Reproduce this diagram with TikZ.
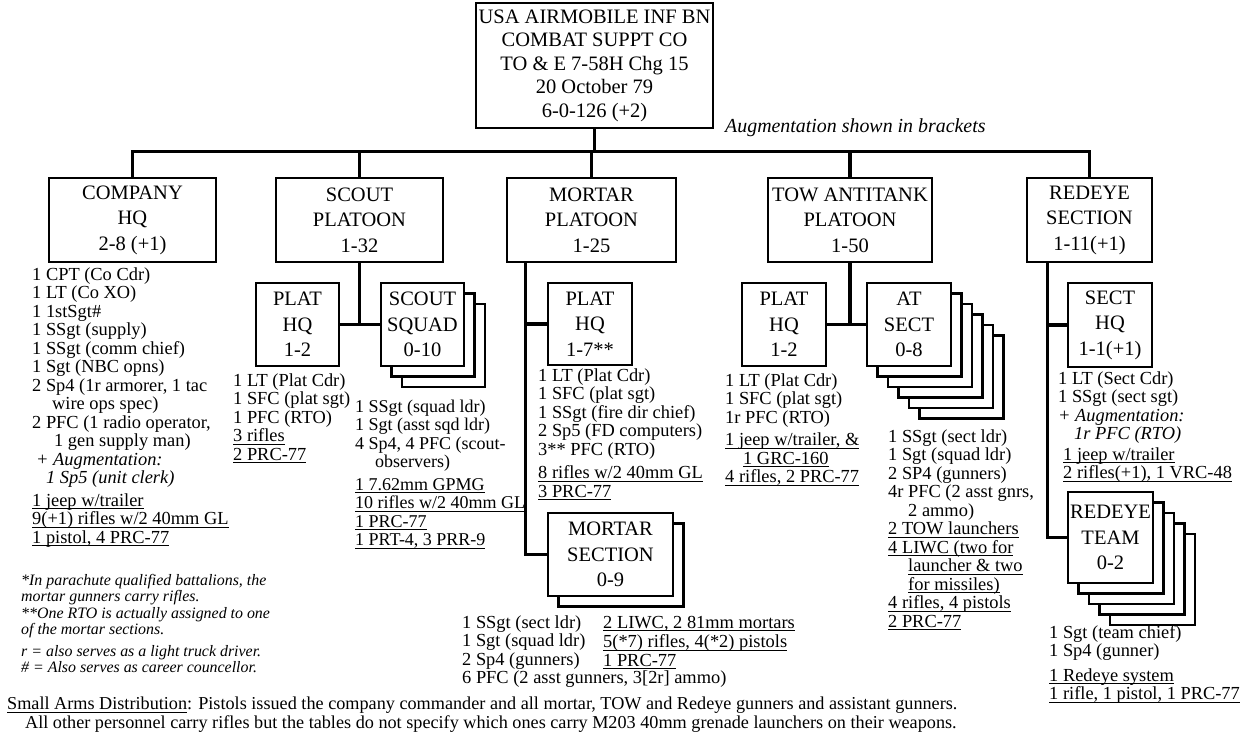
\documentclass[tikz,border=0pt]{standalone}
\usepackage{fontspec}
\setmainfont{Liberation Serif}
\usetikzlibrary{calc,positioning}
\newcommand{\boxfont}{\fontsize{20.5}{25.5}\selectfont}
\newcommand{\listfont}{\fontsize{18.4}{18.5}\selectfont}
\newcommand{\notefont}{\fontsize{15.9}{16.5}\selectfont\itshape}
\newcommand{\undl}[1]{\setbox0=\hbox{#1}\rlap{\rule[-3pt]{\wd0}{0.9pt}}\box0}
\newcommand{\stackback}[5]{%
  \foreach \k in {#5,...,1}{%
    \filldraw[sheet] ({#1+10.5*\k},{#2+10.5*\k}) rectangle ({#3+10.5*\k},{#4+10.5*\k});}}

\begin{document}
\begin{tikzpicture}[x=1pt, y=-1pt,
    unit/.style={draw, line width=2.6pt, fill=white, inner sep=0pt, align=center, font=\boxfont},
    sheet/.style={draw, line width=2.6pt, fill=white},
    roster/.style={anchor=north west, inner sep=0pt, align=left, font=\listfont},
    note/.style={anchor=north west, inner sep=0pt, align=left, font=\notefont},
    link/.style={line width=3.2pt}]
  \useasboundingbox (0,0) rectangle (1246,734);

  \node[unit, minimum width=237pt, minimum height=125pt, font=\fontsize{20.5}{23.5}\selectfont] (bn) at (594.5,65.5)
    {USA AIRMOBILE INF BN\\COMBAT SUPPT CO\\TO \& E 7-58H Chg 15\\20 October 79\\6-0-126 (+2)};
  \node[anchor=base west, inner sep=0pt, font=\fontsize{19.9}{20}\selectfont\itshape] (aug) at (725,132) {Augmentation shown in brackets};

  \node[unit, minimum width=167pt, minimum height=84pt] (coy) at (132.5,220) {COMPANY\\HQ\\2-8 (+1)};
  \node[unit, minimum width=167pt, minimum height=84pt] (sct) at (359.5,220) {SCOUT\\PLATOON\\1-32};
  \node[unit, minimum width=169pt, minimum height=84pt] (mor) at (591.5,220) {MORTAR\\PLATOON\\1-25};
  \node[unit, minimum width=164pt, minimum height=84pt] (tow) at (850,220) {TOW ANTITANK\\PLATOON\\1-50};
  \node[unit, minimum width=125pt, minimum height=84pt] (red) at (1089.5,220) {REDEYE\\SECTION\\1-11(+1)};

  \node[unit, minimum width=83pt, minimum height=83pt] (shq) at (297.5,324.5) {PLAT\\HQ\\1-2};
  \stackback{381}{283}{464}{366}{2}
  \node[unit, minimum width=83pt, minimum height=83pt] (sqd) at (422.5,324.5) {SCOUT\\SQUAD\\0-10};

  \node[unit, minimum width=84pt, minimum height=82pt] (mhq) at (590,324) {PLAT\\HQ\\1-7**};
  \stackback{548}{513}{673}{596}{1}
  \node[unit, minimum width=125pt, minimum height=83pt] (msec) at (610.5,554.5) {MORTAR\\SECTION\\0-9};

  \node[unit, minimum width=84pt, minimum height=83pt] (thq) at (784,324.5) {PLAT\\HQ\\1-2};
  \stackback{867}{283}{951}{366}{5}
  \node[unit, minimum width=84pt, minimum height=83pt] (atsec) at (909,324.5) {AT\\SECT\\0-8};

  \node[unit, minimum width=84pt, minimum height=84pt] (rhq) at (1110,325) {SECT\\HQ\\1-1(+1)};
  \stackback{1068}{492}{1153}{583}{4}
  \node[unit, minimum width=85pt, minimum height=91pt] (rteam) at (1110.5,537.5) {REDEYE\\TEAM\\0-2};

  \draw[link] (bn.south) -- ++(0,22) coordinate (hub);
  \draw[link] (coy.north) -- (coy.north |- hub) -- (red.north |- hub) -- (red.north);
  \foreach \u in {sct,mor,tow} \draw[link] (\u.north) -- (\u.north |- hub);

  \draw[link] (sct.south) -- (sct.south |- shq.east);
  \draw[link] (shq.east) -- (sqd.west);
  \coordinate (mspine) at ($(mor.south west)+(20,0)$);
  \draw[link] (mspine) |- (msec.west);
  \draw[link] (mspine |- mhq.west) -- (mhq.west);
  \draw[link] (tow.south) -- (tow.south |- thq.east);
  \draw[link] (thq.east) -- (atsec.west);
  \coordinate (rspine) at ($(red.south west)+(22,0)$);
  \draw[link] (rspine) |- (rteam.west);
  \draw[link] (rspine |- rhq.west) -- (rhq.west);

  \node[roster] (coylist) at (32,267) {\strut 1 CPT (Co Cdr)\\1 LT (Co XO)\\1 1stSgt\#\\1 SSgt (supply)\\1 SSgt (comm chief)\\1 Sgt (NBC opns)\\2 Sp4 (1r armorer, 1 tac\\\hspace*{20pt}wire ops spec)\\2 PFC (1 radio operator,\\\hspace*{22pt}1 gen supply man)\\\hspace*{4pt}\textit{+ Augmentation:}\\\hspace*{14pt}\textit{1 Sp5 (unit clerk)}\\[4pt]\undl{1 jeep w/trailer}\\\undl{9(+1) rifles w/2 40mm GL}\\\undl{1 pistol, 4 PRC-77}};

  \node[roster] (shqlist) at (233,373) {\strut 1 LT (Plat Cdr)\\1 SFC (plat sgt)\\1 PFC (RTO)\\\undl{3 rifles}\\\undl{2 PRC-77}};
  \node[roster, font=\fontsize{18}{18.5}\selectfont] (sqdlist) at (355,399) {\strut 1 SSgt (squad ldr)\\1 Sgt (asst sqd ldr)\\4 Sp4, 4 PFC (scout-\\\hspace*{20pt}observers)\\[4pt]\undl{1 7.62mm GPMG}\\\undl{10 rifles w/2 40mm GL}\\\undl{1 PRC-77}\\\undl{1 PRT-4, 3 PRR-9}};

  \node[roster] (mhqlist) at (538,368) {\strut 1 LT (Plat Cdr)\\1 SFC (plat sgt)\\1 SSgt (fire dir chief)\\2 Sp5 (FD computers)\\3** PFC (RTO)\\[5pt]\undl{8 rifles w/2 40mm GL}\\\undl{3 PRC-77}};
  \node[roster] (mseclist) at (462,615) {\strut 1 SSgt (sect ldr)\\1 Sgt (squad ldr)\\2 Sp4 (gunners)\\6 PFC (2 asst gunners, 3[2r] ammo)};
  \node[roster] (mseckit) at (603,615) {\strut\undl{2 LIWC, 2 81mm mortars}\\\undl{5(*7) rifles, 4(*2) pistols}\\\undl{1 PRC-77}};

  \node[roster] (thqlist) at (725,373) {\strut 1 LT (Plat Cdr)\\1 SFC (plat sgt)\\1r PFC (RTO)\\[4pt]\undl{1 jeep w/trailer, \&}\\\hspace*{18pt}\undl{1 GRC-160}\\\undl{4 rifles, 2 PRC-77}};
  \node[roster] (atlist) at (888,429) {\strut 1 SSgt (sect ldr)\\1 Sgt (squad ldr)\\2 SP4 (gunners)\\4r PFC (2 asst gnrs,\\\hspace*{20pt}2 ammo)\\\undl{2 TOW launchers}\\\undl{4 LIWC (two for}\\\hspace*{20pt}\undl{launcher \& two}\\\hspace*{20pt}\undl{for missiles)}\\\undl{4 rifles, 4 pistols}\\\undl{2 PRC-77}};

  \node[roster] (rhqlist) at (1058,371) {\strut 1 LT (Sect Cdr)\\1 SSgt (sect sgt)\\\textit{+ Augmentation:}\\\hspace*{16pt}\textit{1r PFC (RTO)}\\[2pt]\hspace*{5pt}\undl{1 jeep w/trailer}\\\hspace*{5pt}\undl{2 rifles(+1), 1 VRC-48}};
  \node[roster] (rteamlist) at (1049,625) {\strut 1 Sgt (team chief)\\1 Sp4 (gunner)\\[6pt]\undl{1 Redeye system}\\\undl{1 rifle, 1 pistol, 1 PRC-77}};

  \node[note] (notes) at (21,573.5) {\strut *In parachute qualified battalions, the\\mortar gunners carry rifles.\\**One RTO is actually assigned to one\\of the mortar sections.\\[5pt]r = also serves as a light truck driver.\\\# = Also serves as career councellor.};

  \node[roster, font=\fontsize{18.2}{19}\selectfont] (arms) at (7,696) {\strut\undl{Small Arms Distribution}: Pistols issued the company commander and all mortar, TOW and Redeye gunners and assistant gunners.\\\hspace*{18pt}All other personnel carry rifles but the tables do not specify which ones carry M203 40mm grenade launchers on their weapons.};
\end{tikzpicture}
\end{document}
